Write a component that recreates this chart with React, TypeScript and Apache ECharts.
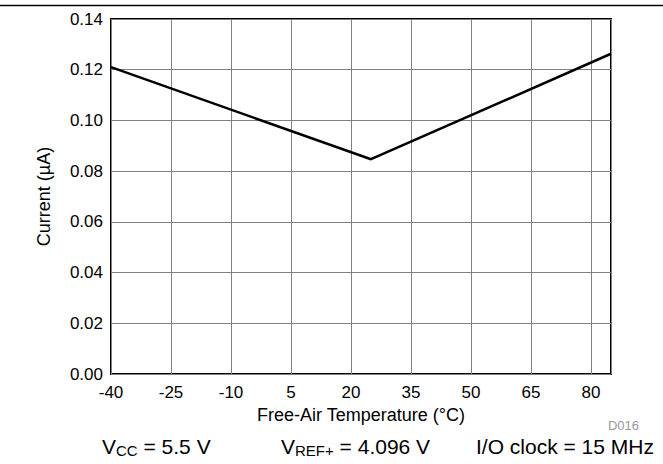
import React, { useEffect, useRef } from "react";
import * as echarts from "echarts";

const temperatures = [-40, 25, 85];
const currents = [0.121, 0.0847, 0.1263];
const xTickMin = -40;
const xTickMax = 85;
const xTickStep = 15;
const yTickMin = 0;
const yTickMax = 0.14;
const yTickStep = 0.02;
const xAxisTitle = "Free-Air Temperature (°C)";
const yAxisTitle = "Current (µA)";
const figureId = "D016";

export default function App() {
  const ref = useRef<HTMLDivElement>(null);
  useEffect(() => {
    if (!ref.current) return;
    const chart = echarts.init(ref.current, null, { renderer: "svg" });
    const font = "'Liberation Sans', Arial, sans-serif";
    chart.setOption({
      animation: false,
      backgroundColor: "#ffffff",
      grid: {
        left: 111,
        right: 52,
        top: 19,
        bottom: 90,
        show: true,
        borderColor: "#000",
        borderWidth: 2,
        containLabel: false,
      },
      xAxis: {
        type: "value",
        min: xTickMin,
        max: xTickMax,
        interval: xTickStep,
        name: xAxisTitle,
        nameLocation: "middle",
        nameGap: 32,
        nameTextStyle: { fontFamily: font, fontSize: 18, color: "#000" },
        axisLine: { show: false },
        axisTick: { show: false },
        axisLabel: {
          fontFamily: font,
          fontSize: 17,
          color: "#000",
          margin: 10,
          showMaxLabel: false,
        },
        splitLine: { show: true, lineStyle: { color: "#808080", width: 1 } },
      },
      yAxis: {
        type: "value",
        min: yTickMin,
        max: yTickMax,
        interval: yTickStep,
        name: yAxisTitle,
        nameLocation: "middle",
        nameGap: 58,
        nameTextStyle: { fontFamily: font, fontSize: 18, color: "#000" },
        axisLine: { show: false },
        axisTick: { show: false },
        axisLabel: {
          fontFamily: font,
          fontSize: 17,
          color: "#000",
          margin: 8,
          formatter: (v: number) => v.toFixed(2),
        },
        splitLine: { show: true, lineStyle: { color: "#808080", width: 1 } },
      },
      series: [
        {
          type: "line",
          data: temperatures.map((t, i) => [t, currents[i]]),
          symbol: "none",
          lineStyle: { color: "#000", width: 2.5 },
        },
      ],
      graphic: [
        {
          type: "line",
          shape: { x1: 0, y1: 5.5, x2: 663, y2: 5.5 },
          style: { stroke: "#000", lineWidth: 1.5 },
        },
        {
          type: "text",
          x: 639,
          y: 425,
          style: {
            text: figureId,
            fill: "#999",
            fontFamily: font,
            fontSize: 13,
            align: "right",
            verticalAlign: "middle",
          },
        },
        {
          type: "text",
          x: 102,
          y: 446,
          style: {
            text: "V{sub|CC} = 5.5 V",
            fill: "#000",
            fontFamily: font,
            fontSize: 21,
            verticalAlign: "middle",
            rich: {
              sub: { fontFamily: font, fontSize: 15, fill: "#000", padding: [9, 0, 0, 0] },
            },
          },
        },
        {
          type: "text",
          x: 281,
          y: 446,
          style: {
            text: "V{sub|REF+} = 4.096 V",
            fill: "#000",
            fontFamily: font,
            fontSize: 21,
            verticalAlign: "middle",
            rich: {
              sub: { fontFamily: font, fontSize: 15, fill: "#000", padding: [9, 0, 0, 0] },
            },
          },
        },
        {
          type: "text",
          x: 476,
          y: 446,
          style: {
            text: "I/O clock = 15 MHz",
            fill: "#000",
            fontFamily: font,
            fontSize: 21,
            verticalAlign: "middle",
          },
        },
      ],
    });
    return () => chart.dispose();
  }, []);
  return (
    <div
      ref={ref}
      style={{ position: "fixed", left: 0, top: 0, width: 663, height: 464, background: "#fff" }}
    />
  );
}
